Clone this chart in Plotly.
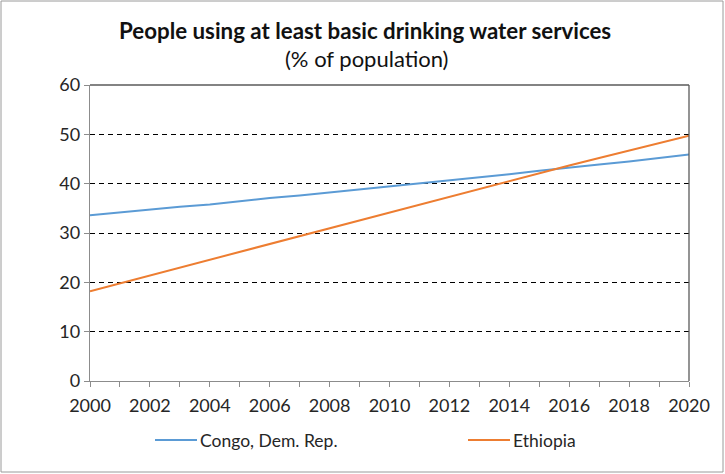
import plotly.graph_objects as go

# Share of population using at least basic drinking water services (%)
years = list(range(2000, 2021))
congo = [33.6, 34.2, 34.7, 35.3, 35.8, 36.5, 37.1, 37.6, 38.2, 38.8, 39.4,
         40.0, 40.6, 41.3, 41.9, 42.6, 43.3, 43.9, 44.5, 45.2, 45.9]
ethiopia = [18.2, 19.8, 21.4, 23.0, 24.6, 26.1, 27.7, 29.3, 30.9, 32.5, 34.2,
            35.8, 37.4, 39.0, 40.6, 42.1, 43.7, 45.2, 46.7, 48.2, 49.7]
series_names = ["Congo, Dem. Rep.", "Ethiopia"]
series_colors = ["#5B9BD5", "#ED7D31"]
y_ticks = [0, 10, 20, 30, 40, 50, 60]
x_tick_labels = [str(y) if y % 2 == 0 else "" for y in years]

W, H = 725, 474
L, R, T, B = 90, 36, 85, 93
FONT = "Lato, Carlito, Calibri, sans-serif"


def px_to_paper(px, py):
    """Convert a page pixel position to paper coordinates."""
    return (px - L) / (W - L - R), (H - B - py) / (H - T - B)


fig = go.Figure()
for name, vals, color in zip(series_names, [congo, ethiopia], series_colors):
    fig.add_trace(go.Scatter(x=years, y=vals, mode="lines", name=name,
                             line=dict(color=color, width=2), showlegend=False))

# outer chart border
bx0, by0 = px_to_paper(1, 472)
bx1, by1 = px_to_paper(723, 1)
fig.add_shape(type="rect", xref="paper", yref="paper", x0=bx0, y0=by0, x1=bx1, y1=by1,
              line=dict(color="#9a9a9a", width=1), layer="below")
# plot frame top and right edges
fig.add_shape(type="line", xref="paper", yref="paper", x0=0, y0=1, x1=1, y1=1,
              line=dict(color="#5a5a5a", width=1.3))
fig.add_shape(type="line", xref="paper", yref="paper", x0=1, y0=0, x1=1, y1=1,
              line=dict(color="#5a5a5a", width=1.3))

tx, ty = px_to_paper(365, 30)
sx, sy = px_to_paper(366, 58)
fig.add_annotation(text="<b>People using at least basic drinking water services</b>",
                   xref="paper", yref="paper", x=tx, y=ty, showarrow=False,
                   font=dict(family=FONT, size=22.3, color="#111111"),
                   xanchor="center", yanchor="middle")
fig.add_annotation(text="(% of population)",
                   xref="paper", yref="paper", x=sx, y=sy, showarrow=False,
                   font=dict(family=FONT, size=22, color="#111111"),
                   xanchor="center", yanchor="middle")

# legend row below the axis: sample line followed by the series name
legend_starts = [155, 468]
for name, color, x_start in zip(series_names, series_colors, legend_starts):
    lx0, ly = px_to_paper(x_start, 440)
    lx1, _ = px_to_paper(x_start + 42, 440)
    fig.add_shape(type="line", xref="paper", yref="paper", x0=lx0, y0=ly, x1=lx1, y1=ly,
                  line=dict(color=color, width=2))
    tx0, _ = px_to_paper(x_start + 43, 440)
    fig.add_annotation(text=name, xref="paper", yref="paper", x=tx0, y=ly,
                       showarrow=False, xanchor="left", yanchor="middle",
                       font=dict(family=FONT, size=17.5, color="#262626"))

fig.update_layout(
    width=W, height=H,
    margin=dict(l=L, r=R, t=T, b=B, pad=0),
    paper_bgcolor="white", plot_bgcolor="white",
    font=dict(family=FONT, size=18, color="#262626"),
    showlegend=False,
    xaxis=dict(range=[2000, 2020], tickvals=years, ticktext=x_tick_labels,
               showgrid=False, zeroline=False, showline=True, linecolor="#8c8c8c",
               linewidth=1.3, ticks="outside", ticklen=5, tickcolor="#8c8c8c",
               tickangle=0, ticklabelstandoff=3),
    yaxis=dict(range=[0, 60], tickvals=y_ticks, showgrid=True, gridcolor="black",
               gridwidth=1, griddash="5px,4px", zeroline=False, showline=True,
               linecolor="#8c8c8c", linewidth=1.3, ticks="outside", ticklen=5,
               tickcolor="#8c8c8c"),
)

fig.write_html("out.html")
